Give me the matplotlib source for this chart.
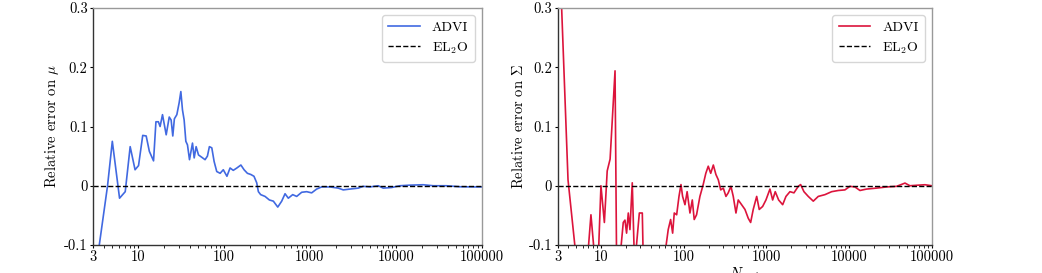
import matplotlib
matplotlib.use("Agg")
import matplotlib.pyplot as plt
from matplotlib.ticker import FixedLocator, LogLocator, NullFormatter

plt.rcParams['font.family'] = 'serif'
plt.rcParams['font.serif'] = ['cmr10', 'DejaVu Serif']
plt.rcParams['mathtext.fontset'] = 'cm'
plt.rcParams['axes.unicode_minus'] = False
plt.rcParams['font.size'] = 10.5

# relative error on mu (ADVI)
n_mu = [3.3, 4.4, 5.0, 6.07, 7.07, 8.07, 9.2, 10.1, 11.3, 12.4, 13.5, 15.1, 16.1, 17.2,
        18.0, 19.2, 21.2, 23.0, 24.2, 25.3, 26.4, 28.2, 30.0, 31.4, 32.8, 34.3, 35.9,
        37.5, 39.6, 42.9, 44.9, 47.3, 50.4, 55.1, 60.1, 64.0, 67.5, 72, 76.6, 82.2, 90,
        98, 108, 117.5, 128, 141, 157, 171, 187, 205, 223, 240, 251, 267, 300, 337, 375,
        422, 469, 513, 560, 630, 701, 802, 916, 1047, 1197, 1368, 1710, 2137, 2443, 2920,
        3650, 4170, 4990, 6240, 7130, 8910, 11140, 14560, 20800, 27200, 38900, 55600,
        79400, 100000]
err_mu = [-0.13, 0.0, 0.075, -0.021, -0.01, 0.066, 0.027, 0.034, 0.085, 0.084, 0.058,
          0.042, 0.108, 0.108, 0.10, 0.12, 0.086, 0.116, 0.111, 0.084, 0.113, 0.12, 0.14,
          0.159, 0.128, 0.111, 0.075, 0.069, 0.044, 0.072, 0.047, 0.066, 0.052, 0.048,
          0.044, 0.05, 0.066, 0.064, 0.041, 0.024, 0.021, 0.027, 0.016, 0.030, 0.026,
          0.03, 0.035, 0.027, 0.021, 0.019, 0.016, 0.005, -0.01, -0.015, -0.018, -0.024,
          -0.026, -0.036, -0.026, -0.0135, -0.021, -0.015, -0.018, -0.011, -0.01, -0.012,
          -0.0056, -0.002, -0.002, -0.004, -0.007, -0.0056, -0.004, -0.001, -0.002, 0.0,
          -0.004, -0.003, 0.0, 0.001, 0.0017, 0.0, 0.0, -0.0017, -0.002, -0.002]

# relative error on Sigma (ADVI)
n_sig = [3, 4, 5, 6, 7, 7.57, 8.5, 9.3, 10, 11, 11.9, 12.9, 14.8, 15.5, 17.3, 18.6, 19.5,
         20.4, 21.4, 22.4, 23.9, 25.3, 26.5, 29.1, 31.6, 32.5, 45, 60, 65, 69.5, 73.5,
         76.9, 82.2, 87.7, 92.7, 97, 103.6, 110, 119, 127, 134, 143, 157, 172, 185, 198,
         212, 228, 245, 262, 280, 301, 324, 345, 372, 397, 428, 456, 501, 550, 603, 644,
         692, 762, 818, 899, 986, 1102, 1188, 1277, 1403, 1570, 1721, 1923, 2149, 2423,
         2588, 2838, 3200, 3680, 4227, 5093, 6138, 7380, 8870, 10200, 11720, 13490, 16220,
         21400, 28300, 37400, 47200, 54200, 68400, 82300, 100000]
err_sig = [0.48, 0.01, -0.12, -0.15, -0.11, -0.049, -0.13, -0.12, 0.0, -0.062, 0.025,
           0.045, 0.194, -0.15, -0.11, -0.062, -0.058, -0.08, -0.046, -0.074, 0.005,
           -0.12, -0.11, -0.046, -0.046, -0.13, -0.2, -0.11, -0.074, -0.057, -0.08,
           -0.046, -0.049, -0.018, 0.002, -0.018, -0.032, -0.01, -0.046, -0.024, -0.057,
           -0.049, -0.018, 0.002, 0.021, 0.033, 0.021, 0.035, 0.019, 0.01, -0.007, -0.004,
           -0.018, -0.012, -0.001, -0.018, -0.046, -0.024, -0.032, -0.04, -0.055, -0.062,
           -0.04, -0.018, -0.04, -0.035, -0.024, -0.0056, -0.024, -0.01, -0.024, -0.032,
           -0.018, -0.01, -0.012, -0.001, 0.002, -0.01, -0.018, -0.026, -0.018, -0.015,
           -0.01, -0.008, -0.007, -0.001, -0.002, -0.008, -0.0056, -0.004, -0.002, -0.001,
           0.0045, 0.0, 0.001, 0.0017, 0.0]

x_ticks = [3, 10, 100, 1000, 10000, 100000]
x_ticklabels = ['3', '10', '100', '1000', '10000', '100000']
y_ticks = [-0.1, 0, 0.1, 0.2, 0.3]
y_ticklabels = ['-0.1', '0', '0.1', '0.2', '0.3']

fig = plt.figure(figsize=(10.42, 2.73), dpi=100)
ax1 = fig.add_axes([0.0895, 0.1026, 0.3728, 0.868])
ax2 = fig.add_axes([0.5352, 0.1026, 0.3592, 0.868])

panels = [(ax1, n_mu, err_mu, '#4169E1', r'Relative error on $\mu$'),
          (ax2, n_sig, err_sig, '#DC143C', r'Relative error on $\Sigma$')]

for ax, n, err, color, ylabel in panels:
    ax.plot(n, err, color=color, lw=1.2, label='ADVI')
    ax.axhline(0, color='black', ls='--', lw=1.0, label=r'EL$_2$O')
    ax.set_xscale('log')
    ax.set_xlim(3, 100000)
    ax.set_ylim(-0.1, 0.3)
    ax.xaxis.set_major_locator(FixedLocator(x_ticks))
    ax.set_xticklabels(x_ticklabels)
    ax.xaxis.set_minor_locator(LogLocator(base=10, subs=range(2, 10), numticks=20))
    ax.xaxis.set_minor_formatter(NullFormatter())
    ax.yaxis.set_major_locator(FixedLocator(y_ticks))
    ax.set_yticklabels(y_ticklabels)
    ax.set_ylabel(ylabel, labelpad=2)
    ax.tick_params(which='major', length=2.5, width=0.8, pad=1.5)
    ax.tick_params(which='minor', length=1.8, width=0.6)
    for side in ['left', 'bottom']:
        ax.spines[side].set_color('#333333')
    for side in ['top', 'right']:
        ax.spines[side].set_color('#999999')
    for s in ax.spines.values():
        s.set_linewidth(1.0)
    leg = ax.legend(loc='upper right', fontsize=10, handlelength=2.3,
                    borderpad=0.45, labelspacing=0.45, handletextpad=0.85,
                    borderaxespad=0.5)
    leg.get_frame().set_edgecolor('#cccccc')

ax2.set_xlabel(r'$N_{\rm eval}$', labelpad=1)

fig.savefig('out.png', dpi=100)
